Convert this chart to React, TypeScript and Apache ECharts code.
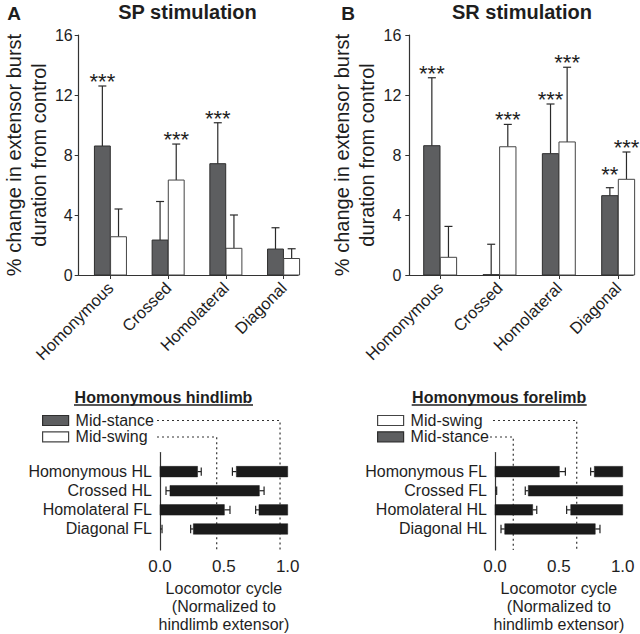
import React, { useEffect, useRef } from "react";
import * as echarts from "echarts";

const FONT = "'Liberation Sans', Arial, Helvetica, sans-serif";

// ---- Top panels: % change in extensor burst duration ----
const categories = ["Homonymous", "Crossed", "Homolateral", "Diagonal"];

const spStanceMean = [8.6, 2.33, 7.42, 1.73];
const spStanceErr = [4.0, 2.57, 2.73, 1.42];
const spSwingMean = [2.55, 6.33, 1.78, 1.1];
const spSwingErr = [1.85, 2.4, 2.22, 0.65];
const spStanceStars = ["***", "", "***", ""];
const spSwingStars = ["", "***", "", ""];

const srStanceMean = [8.62, 0.02, 8.09, 5.29];
const srStanceErr = [4.53, 2.03, 3.31, 0.53];
const srSwingMean = [1.18, 8.55, 8.87, 6.38];
const srSwingErr = [2.06, 1.49, 4.98, 1.82];
const srStanceStars = ["***", "", "***", "**"];
const srSwingStars = ["", "***", "***", "***"];

// ---- Bottom panels: burst onset / offset within locomotor cycle ----
const hindRows = ["Homonymous HL", "Crossed HL", "Homolateral FL", "Diagonal FL"];
const hindOnset = [0.598, 0.078, 0.775, 0.261];
const hindOnsetErr = [0.031, 0.031, 0.026, 0.021];
const hindOffset = [0.294, 0.778, 0.504, 0.0];
const hindOffsetErr = [0.029, 0.037, 0.044, 0.016];
const hindRefs = [0.94, 0.444]; // mid-stance, mid-swing

const foreRows = ["Homonymous FL", "Crossed FL", "Homolateral HL", "Diagonal HL"];
const foreOnset = [0.778, 0.261, 0.593, 0.076];
const foreOnsetErr = [0.029, 0.024, 0.032, 0.029];
const foreOffset = [0.504, 0.0, 0.295, 0.785];
const foreOffsetErr = [0.047, 0.013, 0.032, 0.037];
const foreRefs = [0.64, 0.143]; // mid-swing, mid-stance

const cycleTicks = [0, 0.5, 1];

// ---- styling / layout ----
const DARK_FILL = "#5d5e60";
const DARK_STROKE = "#2e2e2e";
const WHITE_FILL = "#ffffff";
const WHITE_STROKE = "#444444";
const AXIS = "#333333";
const TEXT = "#1e1e1e";
const BAR_W = 0.275;
const GROUP_OFF = 0.14;
const ROW_MIN = -1;
const ROW_MAX = 4.1;

function barSeries(
  name: string,
  axisIdx: number,
  mean: number[],
  err: number[],
  offset: number,
  fill: string,
  stroke: string
) {
  return {
    type: "custom",
    name,
    xAxisIndex: axisIdx,
    yAxisIndex: axisIdx,
    silent: true,
    itemStyle: { color: fill, borderColor: stroke, borderWidth: 1 },
    encode: { x: 0, y: 3 },
    data: mean.map((m, i) => [i, m, err[i], m + err[i]]),
    renderItem: (params: any, api: any) => {
      const i = api.value(0) as number;
      const v = api.value(1) as number;
      const e = api.value(2) as number;
      const xc = i + offset;
      const base = api.coord([xc, 0]);
      const top = api.coord([xc, v]);
      const et = api.coord([xc, v + e]);
      const w = api.size([BAR_W, 0])[0];
      return {
        type: "group",
        children: [
          {
            type: "polyline",
            shape: { points: [[base[0], top[1]], [base[0], et[1]]] },
            style: { stroke: "#2a2a2a", lineWidth: 1.2, fill: null },
          },
          {
            type: "polyline",
            shape: { points: [[base[0] - 4, et[1]], [base[0] + 4, et[1]]] },
            style: { stroke: "#2a2a2a", lineWidth: 1.2, fill: null },
          },
          {
            type: "rect",
            shape: { x: base[0] - w / 2, y: top[1], width: w, height: base[1] - top[1] },
            style: { fill, stroke, lineWidth: 1 },
          },
        ],
      };
    },
  };
}

// Significance stars sit above the error bar, or above the neighbouring bar if that is taller
function starSeries(
  axisIdx: number,
  mean: number[],
  err: number[],
  neighbourMean: number[],
  stars: string[],
  offset: number
) {
  return {
    type: "custom",
    xAxisIndex: axisIdx,
    yAxisIndex: axisIdx,
    silent: true,
    encode: { x: 0, y: 1 },
    data: mean.map((m, i) => [i + offset, Math.max(m + err[i], neighbourMean[i])]),
    renderItem: (params: any, api: any) => {
      const s = stars[params.dataIndex];
      if (!s) return null;
      const p = api.coord([api.value(0), api.value(1)]);
      return {
        type: "text",
        x: p[0],
        y: p[1] + 6.5,
        style: {
          text: s,
          font: `22px ${FONT}`,
          fill: TEXT,
          align: "center",
          verticalAlign: "bottom",
        },
      };
    },
  };
}

function phaseSeries(
  axisIdx: number,
  onset: number[],
  onErr: number[],
  offset: number[],
  offErr: number[]
) {
  return {
    type: "custom",
    xAxisIndex: axisIdx,
    yAxisIndex: axisIdx,
    silent: true,
    encode: { x: [1, 2], y: 0 },
    data: onset.map((o, i) => [i, o, offset[i], onErr[i], offErr[i]]),
    renderItem: (params: any, api: any) => {
      const r = api.value(0) as number;
      const on = api.value(1) as number;
      const off = api.value(2) as number;
      const oe = api.value(3) as number;
      const fe = api.value(4) as number;
      const yc = api.coord([0, r])[1];
      const h = Math.abs(api.size([0, 0.55])[1]);
      const X = (v: number) => api.coord([v, r])[0];
      const segs = off < on ? [[on, 1], [0, off]] : [[on, off]];
      const children: any[] = [];
      const ws = { stroke: "#222", lineWidth: 1.2, fill: null };
      const la = X(on - oe), lb = X(on);
      children.push({ type: "polyline", shape: { points: [[la, yc], [lb, yc]] }, style: ws });
      children.push({ type: "polyline", shape: { points: [[la, yc - h * 0.4], [la, yc + h * 0.4]] }, style: ws });
      const ra = X(off), rb = X(off + fe);
      children.push({ type: "polyline", shape: { points: [[ra, yc], [rb, yc]] }, style: ws });
      children.push({ type: "polyline", shape: { points: [[rb, yc - h * 0.4], [rb, yc + h * 0.4]] }, style: ws });
      segs.forEach(([a, b]) => {
        const x1 = X(a), x2 = X(b);
        if (x2 - x1 > 0.5) {
          children.push({
            type: "rect",
            shape: { x: x1, y: yc - h / 2, width: x2 - x1, height: h },
            style: { fill: "#1b1b1b", stroke: "#1b1b1b", lineWidth: 0.5 },
          });
        }
      });
      return { type: "group", children };
    },
  };
}

function refSeries(axisIdx: number, refs: number[], layout: { x0: number; y: number }[]) {
  return {
    type: "custom",
    xAxisIndex: axisIdx,
    yAxisIndex: axisIdx,
    silent: true,
    encode: { x: 0, y: 1 },
    data: refs.map((v) => [v, 0]),
    renderItem: (params: any, api: any) => {
      const v = api.value(0) as number;
      const x = api.coord([v, 0])[0];
      const yb = api.coord([v, ROW_MAX])[1];
      const lay = layout[params.dataIndex];
      return {
        type: "polyline",
        shape: { points: [[lay.x0, lay.y], [x, lay.y], [x, yb]] },
        style: { stroke: "#333", fill: null, lineWidth: 1.2, lineDash: [2, 3] },
      };
    },
  };
}

function topXAxis(gridIndex: number, min: number, max: number) {
  return {
    type: "value",
    gridIndex,
    min,
    max,
    axisLine: { show: true, onZero: false, lineStyle: { color: AXIS, width: 1.2 } },
    axisTick: { show: true, customValues: [0, 1, 2, 3], length: 4, lineStyle: { color: AXIS } },
    axisLabel: {
      customValues: [0, 1, 2, 3],
      formatter: (v: number) => categories[Math.round(v)] ?? "",
      rotate: 45,
      margin: 10,
      fontSize: 16.5,
      fontFamily: FONT,
      color: TEXT,
    },
    splitLine: { show: false },
  };
}

function topYAxis(gridIndex: number, nameGap: number, labelMargin: number) {
  return {
    type: "value",
    gridIndex,
    min: 0,
    max: 16,
    interval: 4,
    name: "% change in extensor burst\nduration from control",
    nameLocation: "middle",
    nameRotate: 90,
    nameGap,
    nameTextStyle: { fontSize: 20, lineHeight: 25, fontFamily: FONT, color: TEXT },
    axisLine: { show: true, onZero: false, lineStyle: { color: AXIS, width: 1.2 } },
    axisTick: { show: true, inside: false, length: 4, lineStyle: { color: AXIS } },
    axisLabel: { fontSize: 16, fontFamily: FONT, color: TEXT, margin: labelMargin },
    splitLine: { show: false },
  };
}

function cycleXAxis(gridIndex: number) {
  return {
    type: "value",
    gridIndex,
    min: 0,
    max: 1,
    interval: 0.5,
    name: "Locomotor cycle\n(Normalized to\nhindlimb extensor)",
    nameLocation: "middle",
    nameGap: 29,
    nameTextStyle: { fontSize: 16, lineHeight: 18, fontFamily: FONT, color: TEXT },
    axisLine: { show: false, onZero: false },
    axisTick: { show: false },
    axisLabel: {
      customValues: cycleTicks,
      formatter: (v: number) => v.toFixed(1),
      fontSize: 17,
      fontFamily: FONT,
      color: TEXT,
      margin: 8,
    },
    splitLine: { show: false },
  };
}

function rowYAxis(gridIndex: number, rows: string[]) {
  return {
    type: "value",
    gridIndex,
    inverse: true,
    min: ROW_MIN,
    max: ROW_MAX,
    axisLine: { show: true, onZero: false, lineStyle: { color: AXIS, width: 1.2 } },
    axisTick: { show: false },
    axisLabel: {
      customValues: [0, 1, 2, 3],
      formatter: (v: number) => rows[Math.round(v)] ?? "",
      fontSize: 16,
      fontFamily: FONT,
      color: TEXT,
      margin: 8,
    },
    splitLine: { show: false },
  };
}

function legendCfg(left: number, data: string[]) {
  return {
    orient: "vertical",
    left,
    top: 412.5,
    padding: 0,
    itemGap: 0.3,
    itemWidth: 26,
    itemHeight: 10,
    icon: "rect",
    selectedMode: false,
    data,
    itemStyle: { borderWidth: 1.2 },
    textStyle: { fontSize: 16, lineHeight: 16, fontFamily: FONT, color: TEXT, padding: [0, 0, 0, 2] },
  };
}

function titleText(text: string, x: number, y: number, size: number) {
  return {
    type: "text",
    x,
    y,
    style: {
      text,
      font: `bold ${size}px ${FONT}`,
      fill: TEXT,
      align: "center",
      verticalAlign: "middle",
    },
  };
}

export default function App() {
  const ref = useRef<HTMLDivElement>(null);
  useEffect(() => {
    if (!ref.current) return;
    const chart = echarts.init(ref.current, null, { renderer: "svg" });
    chart.setOption({
      animation: false,
      backgroundColor: "#ffffff",
      textStyle: { fontFamily: FONT },
      grid: [
        { left: 73.3, top: 35, width: 224.7, height: 240 },
        { left: 409.3, top: 35, width: 223.7, height: 240 },
        { left: 160, top: 452.5, width: 127.7, height: 98 },
        { left: 495, top: 452.5, width: 127.7, height: 98 },
      ],
      xAxis: [topXAxis(0, -0.55, 3.25), topXAxis(1, -0.52, 3.25), cycleXAxis(2), cycleXAxis(3)],
      yAxis: [topYAxis(0, 21, 6), topYAxis(1, 25.5, 8), rowYAxis(2, hindRows), rowYAxis(3, foreRows)],
      legend: [legendCfg(42, ["Mid-stance", "Mid-swing"]), legendCfg(377, ["Mid-swing", "Mid-stance"])],
      graphic: [
        titleText("A", 14, 13.5, 19),
        titleText("SP stimulation", 187.5, 12, 20),
        titleText("B", 348, 13.5, 19),
        titleText("SR stimulation", 522, 12, 20),
        titleText("Homonymous hindlimb", 163.5, 397, 16),
        titleText("Homonymous forelimb", 499.2, 397, 16),
        { type: "line", shape: { x1: 74, y1: 405, x2: 253, y2: 405 }, style: { stroke: TEXT, lineWidth: 1.3 } },
        { type: "line", shape: { x1: 411.7, y1: 405, x2: 586.7, y2: 405 }, style: { stroke: TEXT, lineWidth: 1.3 } },
      ],
      series: [
        barSeries("Mid-stance", 0, spStanceMean, spStanceErr, -GROUP_OFF, DARK_FILL, DARK_STROKE),
        barSeries("Mid-swing", 0, spSwingMean, spSwingErr, GROUP_OFF, WHITE_FILL, WHITE_STROKE),
        barSeries("Mid-stance", 1, srStanceMean, srStanceErr, -GROUP_OFF, DARK_FILL, DARK_STROKE),
        barSeries("Mid-swing", 1, srSwingMean, srSwingErr, GROUP_OFF, WHITE_FILL, WHITE_STROKE),
        starSeries(0, spStanceMean, spStanceErr, spSwingMean, spStanceStars, -GROUP_OFF),
        starSeries(0, spSwingMean, spSwingErr, spStanceMean, spSwingStars, GROUP_OFF),
        starSeries(1, srStanceMean, srStanceErr, srSwingMean, srStanceStars, -GROUP_OFF),
        starSeries(1, srSwingMean, srSwingErr, srStanceMean, srSwingStars, GROUP_OFF),
        refSeries(2, hindRefs, [
          { x0: 157, y: 420.5 },
          { x0: 157, y: 437 },
        ]),
        refSeries(3, foreRefs, [
          { x0: 493, y: 420.5 },
          { x0: 490, y: 437 },
        ]),
        phaseSeries(2, hindOnset, hindOnsetErr, hindOffset, hindOffsetErr),
        phaseSeries(3, foreOnset, foreOnsetErr, foreOffset, foreOffsetErr),
      ],
    });
    return () => chart.dispose();
  }, []);
  return (
    <div
      ref={ref}
      style={{ position: "absolute", left: 0, top: 0, width: 640, height: 634, background: "#fff" }}
    />
  );
}
